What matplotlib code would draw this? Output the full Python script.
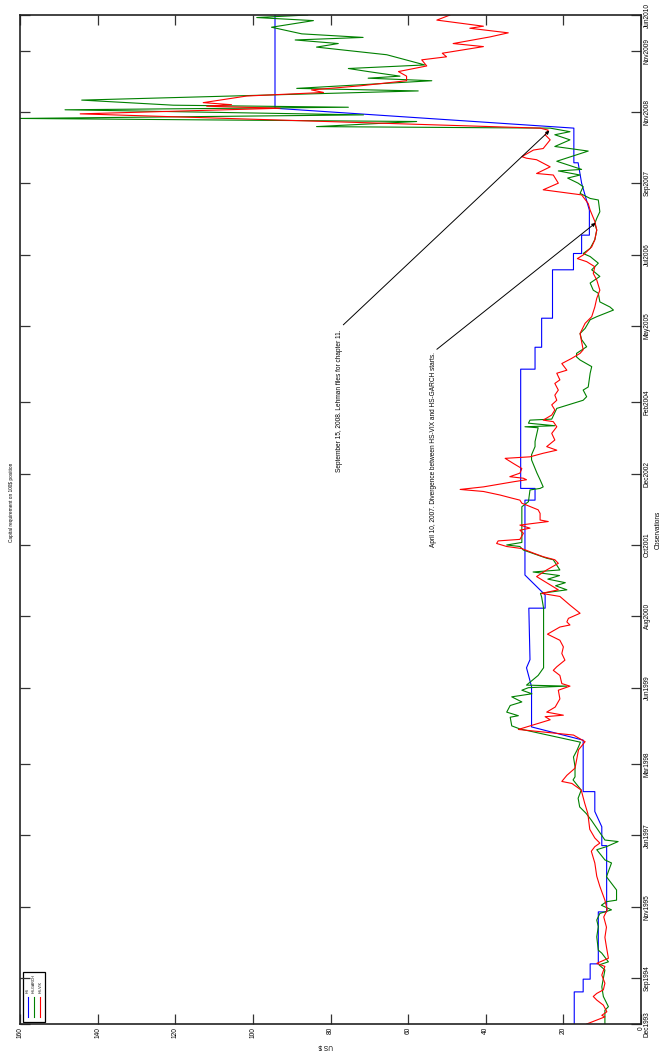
import matplotlib
matplotlib.use("Agg")
import matplotlib.pyplot as plt
from matplotlib.patches import Rectangle

plt.rcParams['font.family'] = ['Liberation Sans', 'DejaVu Sans']

# ---- time axis: months since Dec 1993 ----
tick_months = [0, 9, 23, 37, 51, 66, 80, 94, 108, 122, 137, 151, 165, 179, 191, 198]
tick_labels = ["Dec1993", "Sep1994", "Nov1995", "Jan1997", "Mar1998", "Jun1999", "Aug2000",
               "Oct2001", "Dec2002", "Feb2004", "May2005", "Jul2006", "Sep2007", "Nov2008",
               "Nov2009", "Jun2010"]
value_ticks = [0, 20, 40, 60, 80, 100, 120, 140, 160]

# ---- HS (blue) ----
hs_t = [0, 6.3, 6.3, 8.8, 8.8, 11.8, 11.8, 22, 22, 35, 35, 38.7, 41.7, 45.6, 45.6, 55.7, 58.3,
        66.2, 69.9, 71.5, 81.6, 81.6, 84.2, 88.1, 102.8, 102.8, 105.1, 105.1, 128.5, 128.5,
        132.8, 132.8, 138.5, 138.5, 148, 148, 151.2, 151.2, 154.8, 154.8, 159.7, 165, 169,
        169, 175.8, 179.7, 198]
hs_v = [17.2, 17.2, 14.9, 14.9, 13.1, 13.1, 11.0, 11.0, 8.85, 8.85, 10.1, 10.1, 11.9, 11.9,
        14.9, 14.9, 28.2, 28.2, 29.5, 28.6, 28.9, 24.7, 24.7, 29.9, 29.9, 27.3, 27.3, 31.0,
        31.0, 27.3, 27.3, 25.6, 25.6, 22.8, 22.8, 17.4, 17.4, 15.3, 15.3, 13.3, 13.3, 15.3,
        16.2, 17.3, 17.3, 94.3, 94.3]

# ---- HS-GARCH (green) ----
garch_t = [0, 2.7, 3.4, 5.4, 7.3, 10.6, 11.6, 12.2, 13.9, 14.5, 17.1, 19.1, 20.4, 21.7, 22.4,
           23.3, 24, 24.3, 26.3, 28.9, 31.6, 32.2, 34.2, 34.8, 35.8, 36.1, 38, 40, 41.3, 42.6,
           44.3, 45.9, 47.9, 48.5, 50.5, 52.4, 53.7, 55.3, 57.9, 58.5, 60.2, 60.5, 61.2, 62.5,
           63.2, 64.2, 64.8, 65.5, 66.0, 66.3, 66.5, 68.4, 69.9, 74.1, 78.1, 81.6, 83.8, 84.5,
           85.2, 86.0, 86.6, 87.3, 88.0, 88.7, 89.1, 91.1, 91.4, 93.0, 93.7, 94.0, 94.5, 101.5,
           102.5, 104.8, 105.1, 105.4, 106.8, 108.1, 110.7, 111.7, 113.3, 114.3, 117.0, 117.2,
           117.4, 117.9, 118.5, 118.7, 120.8, 121.8, 122.4, 123.1, 124.4, 125.0, 127.7, 129.0,
           130.3, 130.9, 131.6, 132.9, 134.3, 135.5, 136.5, 138.2, 138.8, 140.1, 140.7, 141.7,
           143.4, 144.0, 145.4, 146.7, 148.0, 149.3, 150.6, 151.2, 152.2, 153.9, 155.8, 157.1,
           158.1, 159.4, 161.7, 162.0, 163.0, 164.3, 165.0, 166.0, 166.6, 167.4, 167.7, 169.3,
           171.3, 172.2, 173.5, 174.5, 175.1, 175.8, 176.1, 177.1, 177.7, 178.4, 179.4, 179.9,
           180.3, 181.3, 183.1, 183.6, 185.1, 185.6, 186.0, 186.9, 187.5, 188.2, 190.2, 191.7,
           192.4, 193.1, 193.6, 194.3, 195.6, 196.9, 197.5, 198]
garch_v = [9.3, 9.3, 8.4, 9.7, 10.1, 9.3, 10.8, 8.4, 10.1, 11.0, 11.4, 11.0, 11.4, 10.6, 7.6,
           10.2, 8.9, 6.3, 6.3, 8.9, 7.6, 9.3, 11.4, 8.9, 5.9, 9.3, 11.0, 12.8, 14.1, 15.8,
           16.2, 15.4, 17.5, 17.0, 17.0, 17.4, 16.5, 15.6, 31.2, 33.3, 33.7, 31.6, 34.6, 33.7,
           30.7, 33.3, 28.1, 30.7, 29.0, 19.1, 29.5, 26.5, 25.1, 25.1, 25.1, 25.1, 25.6, 25.9,
           19.1, 22.0, 19.5, 24.0, 21.0, 27.8, 20.9, 22.6, 24.3, 30.3, 31.2, 34.6, 30.7, 30.7,
           29.0, 28.6, 26.0, 25.2, 26.0, 26.8, 28.2, 28.2, 27.3, 27.3, 26.5, 29.9,
           22.2, 29.0, 28.6, 23.0, 21.7, 17.4, 14.9, 14.0, 14.9, 13.6, 13.1, 12.7,
           15.7, 16.6, 16.6, 14.0, 15.3, 15.7, 14.4, 13.1, 11.4, 7.1, 8.0, 10.6,
           11.0, 12.3, 13.1, 10.6, 12.7, 11.0, 13.1, 14.9, 13.1, 11.9, 11.4, 11.9,
           11.4, 10.6, 11.0, 13.1, 15.7, 14.9, 16.2, 18.9, 15.7, 21.3, 15.3, 21.7,
           13.6, 22.2, 18.3, 22.2, 18.3, 23.4, 83.6, 57.8, 160.0, 71.5, 148.4, 75.4,
           120.5, 144.1, 57.4, 88.7, 53.9, 70.3, 62.1, 70.3, 75.4, 55.7, 65.5, 83.6,
           78.0, 89.1, 71.6, 87.4, 95.2, 84.4, 99.0, 85.9]

# ---- HS-VIX (red) ----
vix_t = [0, 1.4, 1.7, 2.4, 3.7, 4.7, 5.4, 6.0, 6.7, 8.0, 9.6, 11.3, 11.9, 12.9, 15.1, 17, 19,
         21, 22.4, 24.3, 27, 29, 31.6, 33.9, 34.8, 35.5, 36.5, 38.2, 41.3, 43.3, 45.9, 47.2,
         47.6, 48.8, 50.2, 53.8, 55.4, 56.7, 57.8, 59.7, 60.3, 60.6, 61.2, 62.2, 63.8, 65.5,
         66.3, 66.8, 68.4, 69.4, 70.1, 71.4, 72.7, 74.0, 75.3, 76.5, 77.9, 78.3, 78.9, 79.6,
         80.6, 82.2, 83.9, 84.5, 85.2, 87.8, 89.1, 90.4, 91.1, 91.7, 92.4, 93.3, 93.7, 94.3,
         94.8, 95.1, 96.3, 96.9, 97.3, 97.9, 98.6, 98.9, 100.2, 100.9, 102.2, 102.8, 103.2,
         103.8, 104.5, 104.9, 105.4, 106.4, 106.8, 107.1, 107.4, 108.1, 109.0, 110.0, 111.0,
         111.3, 112.0, 112.6, 113.3, 114.6, 115.9, 117.2, 118.2, 118.5, 119.5, 120.5, 121.5,
         122.4, 123.4, 124.4, 125.7, 126.4, 127.7, 128.3, 129.6, 130.6, 131.6, 132.3, 135.5,
         137.5, 138.8, 140.7, 142.4, 144.0, 146.0, 147.3, 148.6, 149.6, 150.2, 150.9, 152.5,
         153.9, 155.8, 157.5, 159.7, 161.0, 162.7, 163.7, 165.0, 166.6, 166.9, 168.2, 169.6,
         169.9, 170.2, 171.5, 171.8, 173.5, 174.5, 175.4, 175.8, 178.6, 179.7, 180.1, 180.4,
         180.8, 182.1, 182.8, 183.3, 184.1, 185.1, 186.0, 186.9, 188.0, 189.2, 189.8, 190.5,
         191.8, 192.4, 193.7, 194.5, 195.4, 195.8, 197.0, 198]
vix_v = [14.0, 9.3, 10.1, 8.8, 9.7, 11.4, 12.3, 11.4, 9.7, 9.3, 10.1, 9.3, 11.4, 8.4, 8.9, 9.3,
         8.9, 9.6, 8.7, 9.3, 10.6, 11.4, 11.9, 12.8, 11.9, 10.6, 11.9, 13.2, 13.7, 14.5, 15.4,
         17.8, 20.4, 19.1, 17.0, 16.1, 14.4, 17.4, 31.6, 23.4, 24.7, 20.0, 24.3, 22.1, 20.9,
         21.3, 18.3, 20.4, 20.9, 22.6, 21.7, 19.6, 20.4, 20.0, 20.9, 24.1, 20.9, 18.3, 19.1,
         18.7, 15.7, 18.3, 20.9, 25.6, 21.3, 26.9, 24.3, 21.3, 22.2, 25.2, 27.7, 30.7, 34.6,
         37.2, 36.8, 31.2, 30.3, 31.2, 28.6, 31.2, 23.9, 26.0, 26.0, 26.5, 30.7, 31.2, 33.3,
         36.3, 40.6, 46.6, 40.6, 32.9, 29.5, 30.3, 33.8, 31.2, 30.7, 32.9, 35.0,
         28.6, 25.2, 21.7, 24.3, 22.2, 23.0, 21.7, 22.6, 25.2, 23.0, 22.2, 23.0,
         21.7, 22.2, 21.3, 22.2, 20.9, 21.7, 19.1, 20.4, 17.9, 15.7, 14.9, 15.7,
         14.4, 12.7, 11.9, 11.4, 10.6, 11.4, 12.3, 11.9, 14.0, 16.4, 14.9, 12.7,
         11.9, 11.4, 11.9, 13.1, 13.6, 15.3, 25.2, 21.3, 22.6, 26.9, 23.4, 26.9,
         29.5, 30.7, 27.7, 25.2, 23.4, 24.7, 23.9, 26.0, 144.5, 93.0, 111.9, 105.5,
         112.8, 101.6, 81.8, 84.9, 72.4, 60.4, 60.4, 62.5, 55.2, 56.5, 50.1, 51.2,
         40.6, 48.4, 38.9, 34.2, 44.1, 40.6, 52.6, 49.2]

series_names = ["HS", "HS-GARCH", "HS-VIX"]
series_colors = ["#0000ff", "#008000", "#ff0000"]

# annotation anchors (value, month)
ann1_text = "September 15, 2008. Lehman files for chapter 11."
ann1_tail = (76.7, 137.2)
ann1_head = (23.6, 175.3)
ann1_pos = (77.6, 136.3)
ann2_text = "April 10, 2007. Divergence between HS-VIX and HS-GARCH starts."
ann2_tail = (52.6, 132.4)
ann2_head = (11.7, 157.2)
ann2_pos = (53.4, 131.9)

W, H = 661, 1057
fig = plt.figure(figsize=(W / 100, H / 100), dpi=100)
ax = fig.add_axes([20 / W, 1 - 1024 / H, 621 / W, 1009 / H])

ax.plot(hs_v, hs_t, color=series_colors[0], lw=0.8)
ax.plot(garch_v, garch_t, color=series_colors[1], lw=0.8)
ax.plot(vix_v, vix_t, color=series_colors[2], lw=0.8)

ax.set_xlim(160, 0)
ax.set_ylim(0, 198)

ax.set_xticks(value_ticks)
ax.set_xticklabels([str(v) for v in value_ticks], rotation=90, fontsize=4.7)
ax.set_yticks(tick_months)
ax.set_yticklabels(tick_labels, rotation=90, fontsize=4.7, va='center')
ax.tick_params(axis='both', direction='in', length=7, width=0.9, color='#333333',
               top=True, bottom=True, left=True, right=True,
               labelleft=False, labelright=True, labelbottom=True, labeltop=False, pad=2)
for sp in ax.spines.values():
    sp.set_linewidth(1.2)
    sp.set_color('#222222')

# annotations
for txt, pos, tail, head in [(ann1_text, ann1_pos, ann1_tail, ann1_head),
                             (ann2_text, ann2_pos, ann2_tail, ann2_head)]:
    ax.text(pos[0], pos[1], txt, rotation=90, rotation_mode='anchor',
            ha='right', va='center', fontsize=4.7)
    ax.annotate('', xy=head, xytext=tail,
                arrowprops=dict(arrowstyle='-|>', color='black', lw=0.7,
                                mutation_scale=5, shrinkA=0, shrinkB=0))

# legend (rotated, drawn manually in axes fraction)
ax.add_patch(Rectangle((0.0048, 0.002), 0.0355, 0.0495, transform=ax.transAxes,
                       fill=False, edgecolor='black', lw=0.9))
leg_x = [0.0124, 0.0225, 0.033]
for xx, name, col in zip(leg_x, series_names, series_colors):
    ax.plot([xx, xx], [0.0069, 0.0268], transform=ax.transAxes, color=col, lw=0.8)
    ax.text(xx, 0.031, name, transform=ax.transAxes, rotation=90, ha='center',
            va='bottom', fontsize=2.6)

fig.text(11.5 / W, 1 - 502 / H, "Capital requirement on 100$ position", rotation=90,
         ha='center', va='center', fontsize=3.4)
fig.text(326 / W, 1 - 1046.5 / H, "US $", rotation=180, ha='center', va='center',
         fontsize=4.7)
fig.text(658.5 / W, 1 - 530 / H, "Observations", rotation=90, ha='center', va='center',
         fontsize=4.7)

fig.savefig("out.png", dpi=100)
